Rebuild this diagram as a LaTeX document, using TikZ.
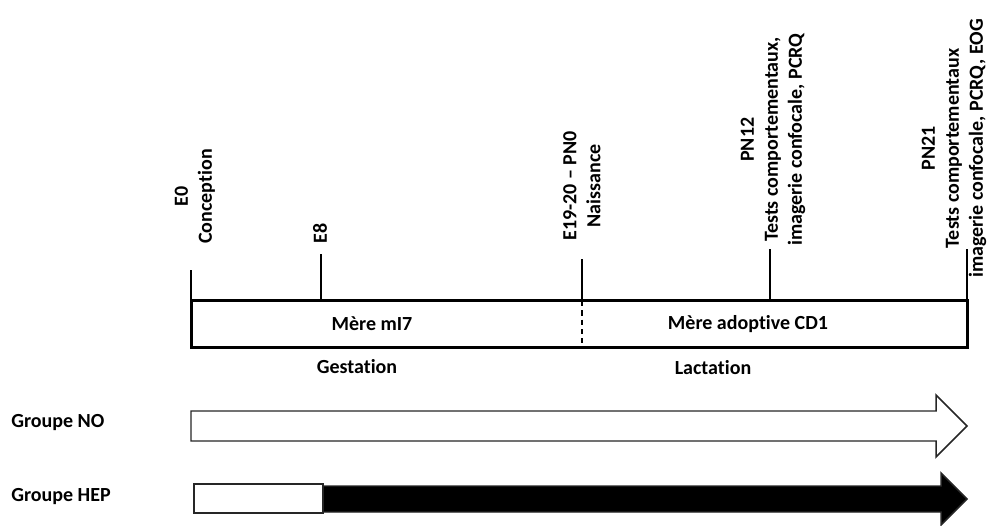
\documentclass[tikz,border=0pt]{standalone}
\usepackage{fontspec}
\setmainfont{Carlito}[Ligatures=NoCommon]
\usepackage{tikz}
\usetikzlibrary{calc, positioning, arrows.meta}

\begin{document}
\begin{tikzpicture}[
  x=0.75pt, y=-0.75pt,
  every node/.style={font=\fontsize{15}{18}\selectfont\bfseries, inner sep=0pt},
  vlabel/.style={rotate=90, anchor=west, align=center},
  tick/.style={line width=0.9pt, color=black},
  tlbox/.style={line width=2.25pt, draw=black},
  grparr/.style={line width=1.1pt, draw=black!85}
]
\useasboundingbox (0,0) rectangle (987,525);

%% Frise principale
\draw[tlbox] (191,300) rectangle (967,347);
\draw[line width=0.9pt, dash pattern=on 4pt off 3pt] (582,301) -- (582,343);
\node (mere1) at (372,324) {Mère mI7};
\node (mere2) at (748,324) {Mère adoptive CD1};
\node (gest) at (357,367) {Gestation};
\node (lact) at (713,368) {Lactation};

%% Repères temporels
\node[vlabel] (e0) at (195,244) {E0\\Conception};
\node[vlabel] (e8) at (320,244) {E8};
\node[vlabel] (pn0) at (582,241) {E19-20 – PN0\\Naissance};
\node[vlabel] (pn12) at (773,246) {PN12\\Tests comportementaux,\\imagerie confocale, PCRQ};
\node[vlabel] (pn21) at (954,278) {PN21\\Tests comportementaux\\imagerie confocale, PCRQ, EOG};

\coordinate (t0) at (191,270);
\coordinate (t8) at (321,254);
\coordinate (tn) at (582,259);
\coordinate (t12) at (770,249);
\coordinate (t21) at (967,249);

\draw[tick] (t0) -- (t0 |- 0,300);
\draw[tick] (t8) -- (t8 |- 0,299);
\draw[tick] (tn) -- (tn |- 0,300);
\draw[tick] (t12) -- (t12 |- 0,300);
\draw[tick] (t21) -- (t21 |- 0,300);

%% Groupe NO
\node[anchor=west] (gno) at (11,423) {Groupe NO};
\draw[grparr, fill=white] (191,411) -- (936,411) -- (936,395) -- (967,426)
  -- (936,457) -- (936,441) -- (191,441) -- cycle;

%% Groupe HEP
\node[anchor=west] (ghep) at (11,497) {Groupe HEP};
\draw[grparr, fill=black] (323,486) -- (941,486) -- (941,473) -- (967,499)
  -- (941,525) -- (941,512) -- (323,512) -- cycle;
\draw[grparr, fill=white] (194,484) rectangle (323,513);

\end{tikzpicture}
\end{document}
